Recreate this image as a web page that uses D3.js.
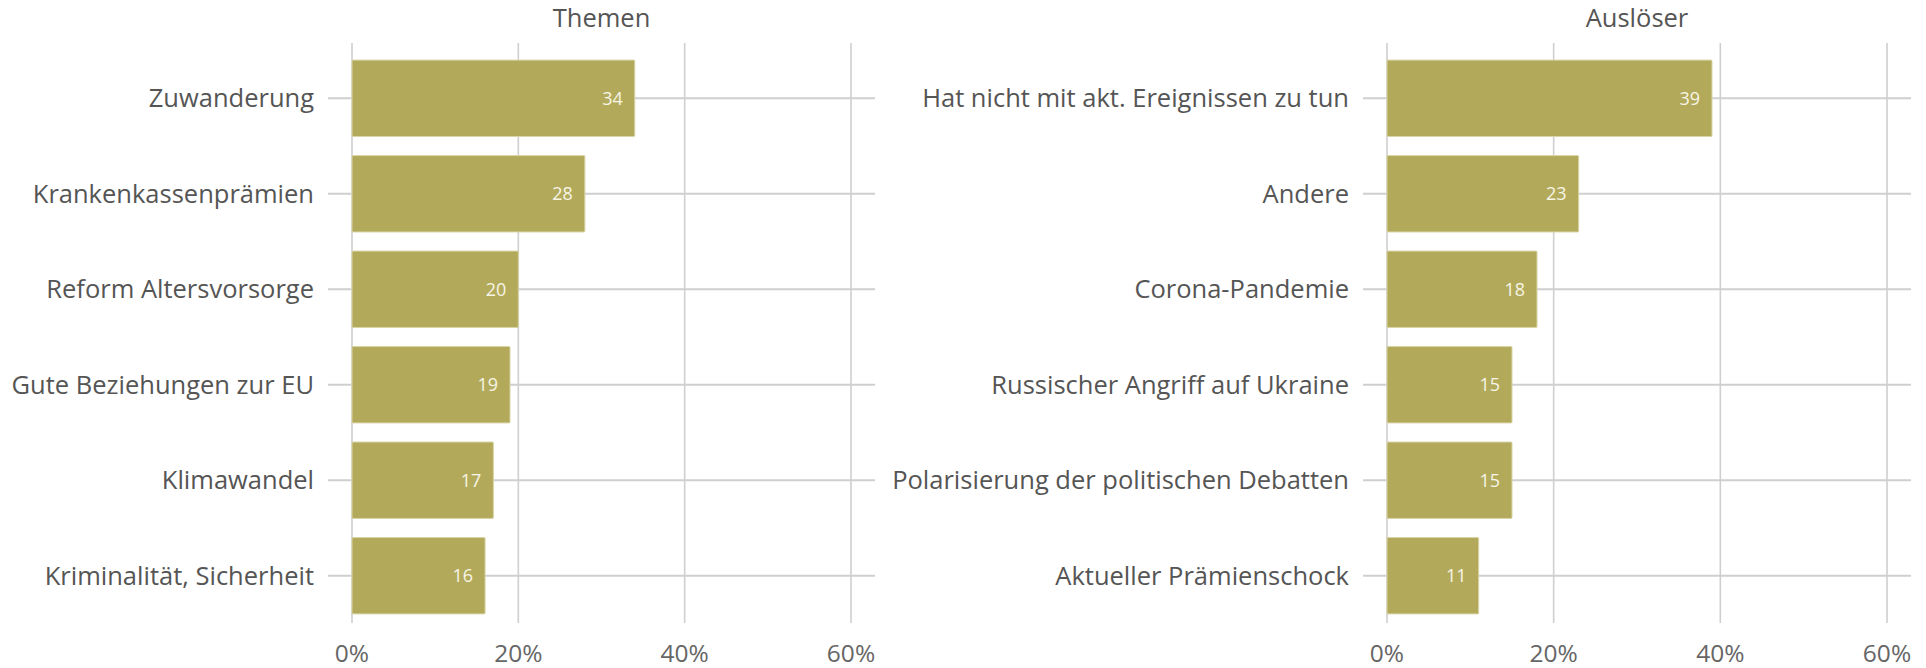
<!DOCTYPE html>
<html><head><meta charset="utf-8">
<script src="https://cdn.jsdelivr.net/npm/d3@7"></script>
<style>
body{margin:0;background:#fff;}
svg text{font-family:"Open Sans","Liberation Sans",Arial,sans-serif;}
</style></head>
<body><svg id="c" width="1926" height="668"></svg>
<script>
const themenCategories = ["Zuwanderung","Krankenkassenprämien","Reform Altersvorsorge","Gute Beziehungen zur EU","Klimawandel","Kriminalität, Sicherheit"];
const themenValues = [34,28,20,19,17,16];
const ausloeserCategories = ["Hat nicht mit akt. Ereignissen zu tun","Andere","Corona-Pandemie","Russischer Angriff auf Ukraine","Polarisierung der politischen Debatten","Aktueller Prämienschock"];
const ausloeserValues = [39,23,18,15,15,11];
const tickValues = [0,20,40,60];
const panelTitles = ["Themen","Auslöser"];

const svg = d3.select("#c");
const panels = [
  {title: panelTitles[0], cats: themenCategories, vals: themenValues, x0: 352, x1: 851, lineL: 328, lineR: 875},
  {title: panelTitles[1], cats: ausloeserCategories, vals: ausloeserValues, x0: 1387, x1: 1887, lineL: 1363, lineR: 1911}
];
const barColor = "#b2aa5a";
panels.forEach(p => {
  const g = svg.append("g");
  const x = d3.scaleLinear().domain([0,60]).range([p.x0, p.x1]);
  const y = d3.scaleBand().domain(p.cats).range([41, 633]).paddingInner(0.2).paddingOuter(0.2);
  g.selectAll("line.v").data(tickValues).join("line")
    .attr("x1", d => x(d)).attr("x2", d => x(d)).attr("y1", 43).attr("y2", 623)
    .attr("stroke", "#cfcfcf").attr("stroke-width", 1.6);
  g.selectAll("line.h").data(p.cats).join("line")
    .attr("x1", p.lineL).attr("x2", p.lineR)
    .attr("y1", d => y(d) + y.bandwidth()/2).attr("y2", d => y(d) + y.bandwidth()/2)
    .attr("stroke", "#cfcfcf").attr("stroke-width", 2);
  g.selectAll("rect").data(p.vals).join("rect")
    .attr("x", x(0)).attr("y", (d,i) => y(p.cats[i]))
    .attr("width", d => x(d) - x(0)).attr("height", y.bandwidth())
    .attr("fill", barColor).attr("stroke", "#d9d4a6").attr("stroke-width", 1).attr("rx", 1);
  g.selectAll("text.val").data(p.vals).join("text")
    .attr("x", d => x(d) - 12).attr("y", (d,i) => y(p.cats[i]) + y.bandwidth()/2)
    .attr("dy", "0.36em").attr("text-anchor", "end")
    .attr("fill", "#f7f5e6").attr("font-size", 18).text(d => d);
  g.selectAll("text.cat").data(p.cats).join("text")
    .attr("x", p.lineL - 14).attr("y", d => y(d) + y.bandwidth()/2)
    .attr("dy", "0.36em").attr("text-anchor", "end")
    .attr("fill", "#555").attr("font-size", 25.5).text(d => d);
  g.selectAll("text.tick").data(tickValues).join("text")
    .attr("x", d => x(d)).attr("y", 662).attr("text-anchor", "middle")
    .attr("fill", "#666").attr("font-size", 24.5).text(d => d + "%");
  g.append("text").attr("x", (p.x0 + p.x1)/2).attr("y", 18).attr("dy", "0.36em")
    .attr("text-anchor", "middle").attr("fill", "#555").attr("font-size", 25.5).text(p.title);
});
</script></body></html>
